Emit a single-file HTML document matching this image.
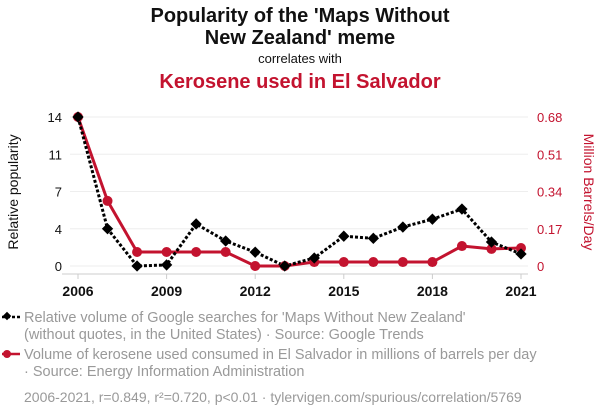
<!DOCTYPE html>
<html><head><meta charset="utf-8"><style>
body{margin:0;background:#fff;font-family:"Liberation Sans",sans-serif;}
svg text{font-family:"Liberation Sans",sans-serif;}
</style></head><body>
<svg id="chart" width="600" height="414" viewBox="0 0 600 414">
<text x="300" y="22" text-anchor="middle" font-size="20" font-weight="bold" fill="#111">Popularity of the 'Maps Without</text>
<text x="300" y="44" text-anchor="middle" font-size="20" font-weight="bold" fill="#111">New Zealand' meme</text>
<text x="300" y="63" text-anchor="middle" font-size="13" fill="#111">correlates with</text>
<text x="300" y="88" text-anchor="middle" font-size="20" font-weight="bold" fill="#c3132f">Kerosene used in El Salvador</text>
<g id="grid"></g>
<g id="axes"></g>
<g id="series"></g>
<text transform="translate(18,192) rotate(-90)" text-anchor="middle" font-size="14" fill="#111">Relative popularity</text>
<text transform="translate(584,192) rotate(90)" text-anchor="middle" font-size="14" fill="#c3132f">Million Barrels/Day</text>
<g>
<line x1="2" y1="317" x2="20" y2="317" stroke="#000" stroke-width="2.5" stroke-dasharray="3,2"/>
<rect x="4" y="313" width="6" height="6" transform="rotate(45 7 316)" fill="#000"/>
<text x="24" y="322" font-size="14.5" fill="#999">Relative volume of Google searches for 'Maps Without New Zealand'</text>
<text x="24" y="339" font-size="14.5" fill="#999">(without quotes, in the United States) · Source: Google Trends</text>
</g>
<g>
<line x1="2" y1="354" x2="20" y2="354" stroke="#c3132f" stroke-width="2.5"/>
<circle cx="7" cy="354" r="4" fill="#c3132f"/>
<text x="24" y="359" font-size="14.5" fill="#999">Volume of kerosene used consumed in El Salvador in millions of barrels per day</text>
<text x="24" y="376" font-size="14.5" fill="#999">· Source: Energy Information Administration</text>
</g>
<text x="24" y="402" font-size="14" fill="#999">2006-2021, r=0.849, r²=0.720, p&lt;0.01 · tylervigen.com/spurious/correlation/5769</text>
</svg>
<script>
const years=[2006,2007,2008,2009,2010,2011,2012,2013,2014,2015,2016,2017,2018,2019,2020,2021];
const popularity=[14,3.5,0,0.1,3.95,2.35,1.3,0,0.75,2.8,2.6,3.66,4.4,5.35,2.25,1.13];
const kerosene=[0.68,0.297,0.064,0.064,0.064,0.064,0,0,0.018,0.018,0.018,0.018,0.018,0.091,0.078,0.082];
const leftTicks=[0,3.5,7,10.5,14];
const leftTickLabels=["0","4","7","11","14"];
const rightTicks=[0,0.17,0.34,0.51,0.68];
const rightTickLabels=["0","0.17","0.34","0.51","0.68"];
const xTicks=[2006,2009,2012,2015,2018,2021];
const NS="http://www.w3.org/2000/svg";
const x=v=>78+(v-2006)/(2021-2006)*443;
const yL=v=>266-v/14*149;
const yR=v=>266-v/0.68*149;
function mk(t,a,p){const e=document.createElementNS(NS,t);for(const k in a)e.setAttribute(k,a[k]);p.appendChild(e);return e;}
const grid=document.getElementById('grid'),axes=document.getElementById('axes'),ser=document.getElementById('series');
leftTicks.forEach((t,i)=>{
 const g=mk('line',{x1:70,x2:528,y1:yL(t),y2:yL(t),stroke:'#eee','stroke-width':1},grid);
 
 
 const l=mk('text',{x:62,y:yL(t)+5,'text-anchor':'end','font-size':13,fill:'#111'},axes);l.textContent=leftTickLabels[i];
 
 
});
rightTicks.forEach((t,i)=>{
 const l=mk('text',{x:537,y:yR(t)+5,'font-size':13,fill:'#c3132f'},axes);l.textContent=rightTickLabels[i];
 
 
});
const ax=mk('line',{x1:62,x2:528,y1:274,y2:274,stroke:'#ccc','stroke-width':1},axes);


xTicks.forEach(t=>{
 const tk=mk('line',{x1:x(t),x2:x(t),y1:274,y2:279,stroke:'#ccc'},axes);
 
 
 const l=mk('text',{x:x(t),y:296,'text-anchor':'middle','font-size':14,'font-weight':'bold',fill:'#111'},axes);l.textContent=t;
 
 
});
const rl=mk('polyline',{points:years.map((y,i)=>x(y)+','+yR(kerosene[i])).join(' '),fill:'none',stroke:'#c3132f','stroke-width':3},ser);


const bl=mk('polyline',{points:years.map((y,i)=>x(y)+','+yL(popularity[i])).join(' '),fill:'none',stroke:'#000','stroke-width':3,'stroke-dasharray':'3,2'},ser);


years.forEach((y,i)=>{
 const c=mk('circle',{cx:x(y),cy:yR(kerosene[i]),r:5,fill:'#c3132f'},ser);
 
 
});
years.forEach((y,i)=>{
 const cx=x(y),cy=yL(popularity[i]);
 const d=mk('rect',{x:cx-4,y:cy-4,width:8,height:8,fill:'#000',transform:`rotate(45 ${cx} ${cy})`},ser);
 
 
});
</script>
</body></html>
